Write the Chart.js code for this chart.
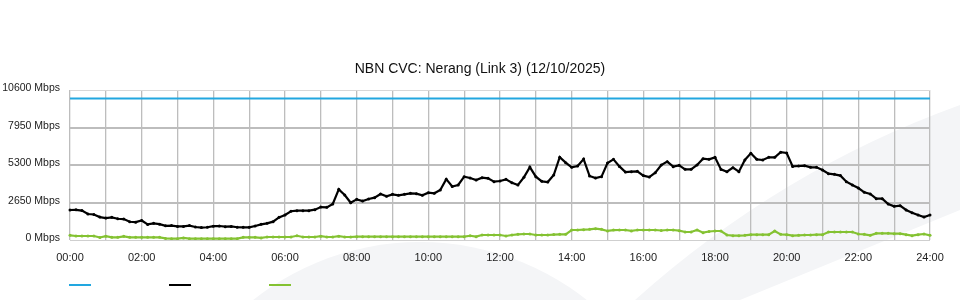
<!DOCTYPE html>
<html>
<head>
<meta charset="utf-8">
<title>NBN CVC: Nerang (Link 3)</title>
<script src="https://cdn.jsdelivr.net/npm/chart.js@4/dist/chart.umd.min.js"></script>
<style>
  html, body { margin: 0; padding: 0; background: #fff; }
  #wrap { position: relative; width: 960px; height: 300px; }
  #legend span { position: absolute; top: 284px; width: 22px; height: 2px; }
</style>
</head>
<body>
<div id="wrap">
  <canvas id="cvc" width="960" height="300"></canvas>
  <div id="legend"></div>
</div>
<script>
// 10 minute samples, 00:00 .. 24:00
const capacityMbps = 10000;

const trafficMbps = [
  2120, 2130, 2080, 1837, 1800, 1620, 1550, 1600, 1500, 1480, 1290, 1260,
  1380, 1100, 1180, 1120, 1000, 1020, 960, 960, 1020, 920, 880, 900,
  980, 990, 940, 960, 900, 895, 895, 990, 1107, 1178, 1296, 1600,
  1767, 2030, 2073, 2073, 2073, 2143, 2330, 2308, 2550, 3580, 3180, 2630,
  2873, 2757, 2897, 2990, 3251, 3085, 3227, 3156, 3227, 3298, 3275, 3156,
  3345, 3298, 3534, 4300, 3780, 3886, 4476, 4382, 4240, 4405, 4358, 4122,
  4170, 4287, 4051, 3886, 4428, 5150, 4476, 4146, 4099, 4594, 5850, 5465,
  5135, 5229, 5720, 4523, 4382, 4476, 5440, 5700, 5200, 4800, 4829, 4850,
  4550, 4450, 4759, 5300, 5536, 5182, 5276, 4994, 4994, 5300, 5747, 5700,
  5841, 4990, 4829, 5112, 4829, 5654, 6124, 5700, 5654, 5841, 5841, 6200,
  6150, 5200, 5229, 5250, 5135, 5135, 4947, 4688, 4640, 4550, 4122, 3887,
  3675, 3369, 3251, 2920, 2920, 2544, 2380, 2426, 2120, 1932, 1767, 1625,
  1767
];

const otherMbps = [
  330, 283, 283, 283, 283, 180, 270, 190, 190, 260, 188, 188,
  188, 188, 188, 188, 110, 94, 94, 150, 94, 94, 94, 94,
  94, 94, 94, 94, 94, 188, 188, 188, 150, 212, 212, 212,
  212, 212, 300, 212, 212, 212, 270, 212, 212, 270, 212, 212,
  236, 236, 236, 236, 236, 236, 236, 236, 236, 236, 236, 236,
  236, 236, 236, 236, 236, 236, 236, 300, 236, 353, 353, 353,
  353, 283, 353, 400, 424, 424, 353, 353, 353, 380, 400, 400,
  707, 707, 730, 754, 801, 754, 640, 700, 707, 707, 640, 707,
  707, 707, 707, 670, 707, 707, 660, 565, 565, 707, 518, 600,
  636, 636, 353, 306, 306, 330, 377, 377, 377, 377, 640, 400,
  377, 306, 330, 353, 353, 377, 377, 565, 565, 565, 565, 565,
  424, 400, 330, 471, 471, 471, 448, 448, 377, 306, 377, 424,
  330
];

const yTicks = [0, 2650, 5300, 7950, 10600];

const times = [];
for (let i = 0; i < trafficMbps.length; i++) {
  const h = Math.floor(i / 6), m = (i % 6) * 10;
  times.push(String(h).padStart(2, '0') + ':' + String(m).padStart(2, '0'));
}

const watermark = {
  id: 'watermark',
  beforeDraw(chart) {
    const c = chart.ctx;
    c.save();
    c.fillStyle = '#f4f5f7';
    c.beginPath();
    c.arc(420, 511, 269, 0, Math.PI * 2);
    c.fill();
    c.beginPath();
    c.moveTo(635, 300);
    c.quadraticCurveTo(780, 170, 960, 105);
    c.lineTo(960, 210);
    c.lineTo(740, 300);
    c.closePath();
    c.fill();
    c.restore();
  }
};

const chart = new Chart(document.getElementById('cvc'), {
  type: 'line',
  data: {
    labels: times,
    datasets: [{
      label: 'Capacity',
      data: [{ x: times[0], y: capacityMbps }, { x: times[times.length - 1], y: capacityMbps }],
      borderColor: '#22a7e0',
      borderWidth: 2,
      pointRadius: 0
    }, {
      label: 'Traffic',
      data: trafficMbps,
      borderColor: '#000000',
      backgroundColor: '#000000',
      borderWidth: 2.2,
      pointRadius: 1.5,
      pointBorderWidth: 0
    }, {
      label: 'Other',
      data: otherMbps,
      borderColor: '#84c232',
      backgroundColor: '#84c232',
      borderWidth: 2.2,
      pointRadius: 1.5,
      pointBorderWidth: 0
    }]
  },
  options: {
    responsive: false,
    animation: false,
    plugins: {
      legend: { display: false },
      tooltip: { enabled: false },
      title: {
        display: true,
        text: 'NBN CVC: Nerang (Link 3) (12/10/2025)',
        color: '#111',
        font: { family: 'Liberation Sans, Arial, sans-serif', size: 14, weight: 'normal' },
        padding: { top: 60.6, bottom: 12.6 }
      }
    },
    scales: {
      x: {
        afterFit: s => { s.height = 60; },
        border: { display: false },
        grid: {
          drawTicks: false,
          color: ctx => ctx.index % 6 === 0 ? '#bdbdbd' : 'rgba(0,0,0,0)',
          lineWidth: 1.3
        },
        ticks: {
          autoSkip: false,
          maxRotation: 0,
          padding: 11,
          color: '#222',
          font: { family: 'Liberation Sans, Arial, sans-serif', size: 11 },
          callback: (v, i) => i % 12 === 0 ? times[i] : ''
        }
      },
      y: {
        min: 0,
        max: 10600,
        afterFit: s => { s.width = 70; },
        afterBuildTicks: s => { s.ticks = yTicks.map(v => ({ value: v })); },
        border: { display: false },
        grid: {
          drawTicks: false,
          color: ctx => ctx.tick && ctx.tick.value === 10600 ? '#d8d8d8' : (ctx.tick && ctx.tick.value === 0 ? '#cfcfcf' : '#bdbdbd'),
          lineWidth: ctx => ctx.tick && (ctx.tick.value === 10600 || ctx.tick.value === 0) ? 1 : 2
        },
        ticks: {
          padding: 10,
          labelOffset: -1.5,
          color: '#222',
          font: { family: 'Liberation Sans, Arial, sans-serif', size: 10.5 },
          callback: v => v + ' Mbps'
        }
      },
      // empty right-hand axis, only reserves the right margin
      yRight: {
        position: 'right',
        min: 0,
        max: 10600,
        afterFit: s => { s.width = 30; },
        border: { display: false },
        grid: { display: false },
        ticks: { display: false }
      }
    }
  },
  plugins: [watermark]
});

const legend = document.getElementById('legend');
chart.data.datasets.forEach((ds, i) => {
  const sw = document.createElement('span');
  sw.style.left = (69 + i * 100) + 'px';
  sw.style.background = ds.borderColor;
  legend.appendChild(sw);
});
</script>
</body>
</html>
